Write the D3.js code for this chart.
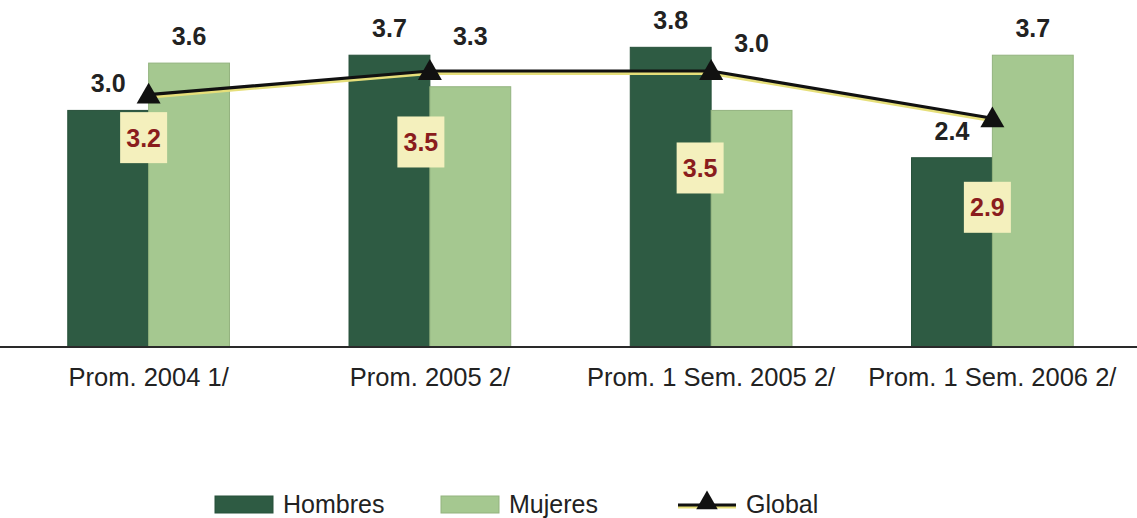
<!DOCTYPE html>
<html>
<head>
<meta charset="utf-8">
<script src="https://cdn.jsdelivr.net/npm/d3@7/dist/d3.min.js"></script>
<style>
  html, body { margin: 0; padding: 0; background: #ffffff; }
  svg { display: block; }
  text { font-family: "Liberation Sans", Arial, Helvetica, sans-serif; }
</style>
</head>
<body>
<svg id="chart" width="1137" height="518"></svg>
<script>
// ---- data ----
const categories = ["Prom. 2004 1/", "Prom. 2005 2/", "Prom. 1 Sem. 2005 2/", "Prom. 1 Sem. 2006 2/"];
const hombres = [3.0, 3.7, 3.8, 2.4];
const mujeres = [3.6, 3.3, 3.0, 3.7];
const global  = [3.2, 3.5, 3.5, 2.9];
const seriesNames = ["Hombres", "Mujeres"];

// ---- styling / layout ----
const colors = { Hombres: "#2e5b43", Mujeres: "#a5c890", line: "#111111", glow: "#e6df7a",
                 box: "#f4f0bd", boxText: "#8a1d1d", label: "#222222" };
// pixel offsets of the yellow "Global" label boxes relative to their markers
const globalBoxOffset = [[-5, 43], [-9, 71], [-11, 97], [-5, 89]];

const svg = d3.select("#chart");
const W = 1137, H = 518;
const baseY = 347;

const x = d3.scaleBand().domain(categories).range([8, 1133]).paddingInner(0.425).paddingOuter(0.2125);
const xs = d3.scaleBand().domain(seriesNames).range([0, x.bandwidth()]).padding(0);
const y = d3.scaleLinear().domain([0, 4.4]).range([baseY, 0]);

const rows = categories.map((c, i) => ({ cat: c, Hombres: hombres[i], Mujeres: mujeres[i], Global: global[i] }));

// bars
const g = svg.append("g");
const groups = g.selectAll("g.grp").data(rows).join("g")
  .attr("class", "grp")
  .attr("transform", d => `translate(${x(d.cat)},0)`);

groups.selectAll("rect").data(d => seriesNames.map(k => ({ key: k, value: d[k] }))).join("rect")
  .attr("x", d => xs(d.key))
  .attr("y", d => y(d.value))
  .attr("width", xs.bandwidth())
  .attr("height", d => y(0) - y(d.value))
  .attr("fill", d => colors[d.key])
  .attr("stroke", d => d.key === "Mujeres" ? "#93b37f" : "#27503a")
  .attr("stroke-width", 1);

// axis baseline
const axis = d3.axisBottom(x).tickSize(0).tickPadding(12);
const axG = svg.append("g").attr("transform", `translate(0,${baseY})`).call(axis);
axG.select(".domain").attr("d", `M0,0H${W}`).attr("stroke", "#2a2a2a").attr("stroke-width", 2.2);
axG.selectAll(".tick text")
  .attr("font-size", 25.5)
  .attr("fill", colors.label)
  .attr("dy", "1.05em")
  .style("font-family", "'Liberation Sans', Arial, sans-serif");

// global line
const cx = d => x(d.cat) + x.bandwidth() / 2;
const lineGen = d3.line().x(cx).y(d => y(d.Global));
svg.append("path").datum(rows).attr("d", lineGen)
  .attr("fill", "none").attr("stroke", colors.glow).attr("stroke-width", 4)
  .attr("transform", "translate(0,2)");
svg.append("path").datum(rows).attr("d", lineGen)
  .attr("fill", "none").attr("stroke", colors.line).attr("stroke-width", 3.2);

svg.selectAll("path.tri").data(rows).join("path")
  .attr("class", "tri")
  .attr("d", d3.symbol(d3.symbolTriangle, 250))
  .attr("transform", d => `translate(${cx(d)},${y(d.Global) + 2})`)
  .attr("fill", "#111111");

// line y at a given pixel x (for placing bar labels clear of the line)
function lineYAt(px) {
  const pts = rows.map(d => [cx(d), y(d.Global)]);
  for (let i = 0; i < pts.length - 1; i++) {
    if (px >= pts[i][0] && px <= pts[i + 1][0]) {
      const t = (px - pts[i][0]) / (pts[i + 1][0] - pts[i][0]);
      return pts[i][1] + t * (pts[i + 1][1] - pts[i][1]);
    }
  }
  return null;
}

// bar value labels
const barLabels = [];
rows.forEach(d => seriesNames.forEach(k => {
  const px = x(d.cat) + xs(k) + xs.bandwidth() / 2;
  let base = y(d[k]) - 18;
  const ly = lineYAt(px);
  if (ly !== null && base > ly - 3 && base - 19 < ly + 6) base = ly - 26;
  barLabels.push({ px, base, v: d[k] });
}));
svg.selectAll("text.val").data(barLabels).join("text")
  .attr("class", "val")
  .attr("x", d => d.px).attr("y", d => d.base)
  .attr("text-anchor", "middle")
  .attr("font-size", 25).attr("font-weight", "bold")
  .attr("fill", colors.label)
  .text(d => d3.format(".1f")(d.v));

// global label boxes
const boxW = 47, boxH = 51;
const gb = svg.selectAll("g.gbox").data(rows).join("g")
  .attr("class", "gbox")
  .attr("transform", (d, i) => `translate(${cx(d) + globalBoxOffset[i][0]},${y(d.Global) + globalBoxOffset[i][1]})`);
gb.append("rect").attr("x", -boxW / 2).attr("y", -boxH / 2).attr("width", boxW).attr("height", boxH)
  .attr("fill", colors.box);
gb.append("text").attr("text-anchor", "middle").attr("y", 9)
  .attr("font-size", 25).attr("font-weight", "bold").attr("fill", colors.boxText)
  .text(d => d3.format(".1f")(d.Global));

// legend
const legend = svg.append("g");
const legItems = [
  { name: "Hombres", type: "rect", x: 215 },
  { name: "Mujeres", type: "rect", x: 441 },
  { name: "Global", type: "line", x: 678 }
];
legItems.forEach(it => {
  const lg = legend.append("g").attr("transform", `translate(${it.x},0)`);
  if (it.type === "rect") {
    lg.append("rect").attr("x", 0).attr("y", 496).attr("width", 58).attr("height", 17)
      .attr("fill", colors[it.name]).attr("stroke", it.name === "Mujeres" ? "#93b37f" : "#27503a");
  } else {
    lg.append("line").attr("x1", 0).attr("x2", 58).attr("y1", 507).attr("y2", 507)
      .attr("stroke", colors.glow).attr("stroke-width", 3);
    lg.append("line").attr("x1", 0).attr("x2", 58).attr("y1", 505).attr("y2", 505)
      .attr("stroke", colors.line).attr("stroke-width", 3);
    lg.append("path").attr("d", d3.symbol(d3.symbolTriangle, 200))
      .attr("transform", "translate(29,503)").attr("fill", "#111");
  }
  lg.append("text").attr("x", 68).attr("y", 513)
    .attr("font-size", 25).attr("fill", colors.label).text(it.name);
});
</script>
</body>
</html>
